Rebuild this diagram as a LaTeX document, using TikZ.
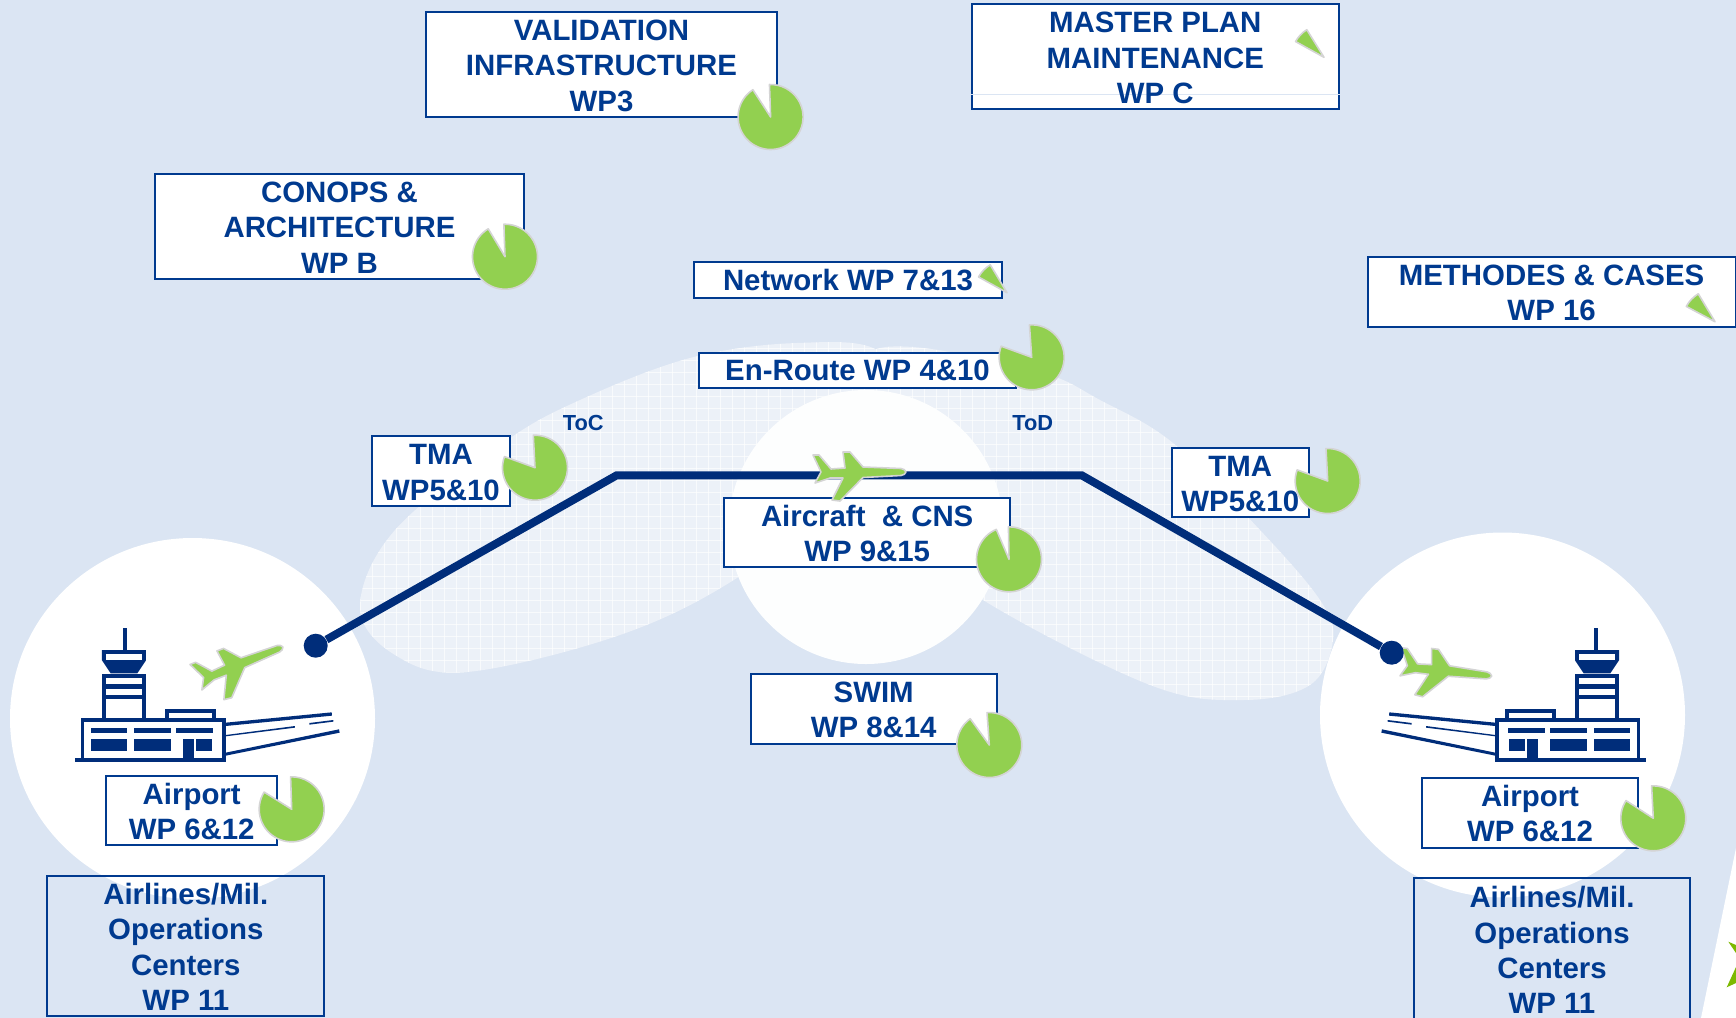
\documentclass[tikz,border=0pt]{standalone}
\usepackage{fontspec}
\setmainfont{Liberation Sans}
\definecolor{bgblue}{HTML}{DBE5F3}
\definecolor{blobblue}{HTML}{ECF1F8}
\definecolor{wptext}{HTML}{003A8F}
\definecolor{navy}{HTML}{002D7A}
\definecolor{pgreen}{HTML}{92D050}
\definecolor{pgray}{HTML}{D4D4D4}
\definecolor{stargreen}{HTML}{7DB900}
\newcommand{\wpfont}{\fontsize{14.7}{17.6}\selectfont\bfseries}
\newcommand{\wpdrop}{\rule{0pt}{11.6pt}}
\tikzset{
  wpbox/.style={draw=wptext,line width=1pt,fill=white,inner sep=0pt,align=center,text=wptext,font=\wpfont},
  wpopen/.style={wpbox,fill=none},
  wptextonly/.style={text=wptext,align=center,inner sep=0pt,font=\wpfont},
  flightlabel/.style={text=wptext,inner sep=0pt,font=\fontsize{10.9}{12}\selectfont\bfseries},
  piepart/.style={fill=pgreen,draw=pgray,line width=.8pt,line join=round},
  planepart/.style={fill=pgreen,draw=pgray,line width=.8pt,line join=round},
  flightpath/.style={draw=navy,line width=4pt,line join=miter},
  flightdot/.style={circle,fill=navy,inner sep=0pt,minimum size=12pt},
}
% hatched blob through the given points
\newcommand{\wpblob}[1]{%
  \begin{scope}
    \clip plot[smooth cycle,tension=.6] coordinates {#1};
    \fill[blobblue] (300,330) rectangle (1344,710);
    \foreach \gx in {300,312,...,1344}{\draw[white,line width=.25pt,opacity=.65] (\gx,330) -- (\gx,710);}
    \foreach \gy in {336,348,...,708}{\draw[white,line width=.25pt,opacity=.65] (300,\gy) -- (1344,\gy);}
  \end{scope}}
% pie with apex at (#1,#2), green from angle #3 to #4 (counter-clockwise on the page)
\newcommand{\wppie}[4]{%
  \begin{scope}[shift={(#1,#2)},yscale=-1]
    \draw[piepart] (0,0) -- (#3:32.5) arc[start angle=#3,end angle=#4,radius=32.5] -- cycle;
  \end{scope}}
% plane, nose along +x
\newcommand{\wpplane}[3]{%
  \begin{scope}[shift={(#1,#2)},rotate=#3]
    \draw[planepart] (46,0) .. controls (45,2) and (44,3) .. (41,3.5) -- (3,5.5) -- (-20,29) -- (-28,28)
      -- (-17,6) -- (-30,6) -- (-45,11) -- (-39,0) -- (-47,-17) -- (-41,-17) -- (-29,-3) -- (-15,-4)
      -- (-17,-20) -- (-10,-20) -- (3,-5) -- (41,-3.5) .. controls (44,-3) and (45,-2) .. (46,0) -- cycle;
  \end{scope}}
% airport, drawn in zoom pixels (3 units = 1 reference pixel)
\newcommand{\wpairport}{%
  \fill[navy] (369,85) rectangle (381,150);
  \fill[navy] (306,150) -- (438,150) -- (438,181) -- (412,220) -- (332,220) -- (306,181) -- cycle;
  \fill[white] (318,163) rectangle (425,180);
  \fill[navy] (306,222) rectangle (438,360);
  \fill[white] (318,235) rectangle (425,252);
  \fill[white] (318,268) rectangle (425,285);
  \fill[white] (318,298) rectangle (425,360);
  \fill[navy] (494,326) rectangle (648,360);
  \fill[white] (506,338) rectangle (636,360);
  \fill[navy] (243,354) rectangle (677,486);
  \fill[white] (253,367) rectangle (667,473);
  \fill[navy] (225,473) rectangle (677,486);
  \fill[navy] (273,384) rectangle (381,399);
  \fill[navy] (402,384) rectangle (513,399);
  \fill[navy] (528,384) rectangle (639,399);
  \fill[navy] (273,417) rectangle (381,453);
  \fill[navy] (402,417) rectangle (513,453);
  \fill[navy] (588,417) rectangle (636,453);
  \fill[navy] (549,417) rectangle (582,473);
  \fill[navy] (677,368) -- (995,337) -- (996,347) -- (677,378) -- cycle;
  \fill[navy] (677,405) -- (885,378) -- (885,383) -- (677,409) -- cycle;
  \fill[navy] (928,369) -- (1000,360) -- (1000,365) -- (928,374) -- cycle;
  \fill[navy] (677,458) -- (1017,388) -- (1019,398) -- (677,467) -- cycle;
}
\begin{document}
\begin{tikzpicture}[x=.5pt,y=-.5pt]
\useasboundingbox (0,0) rectangle (1736,1018);
\fill[bgblue] (0,0) rectangle (1736,1018);

% hatched airspace blobs
\wpblob{(360,607) (395,530) (503,443) (580,400) (690,358) (797,343) (880,352) (900,420) (850,490) (737,578) (620,635) (467,672) (395,655)}
\wpblob{(850,420) (860,360) (913,347) (1040,372) (1100,400) (1173,443) (1260,530) (1320,600) (1333,640) (1310,685) (1243,700) (1150,685) (983,600) (900,530)}

% white discs
\fill[white] (192.5,718.5) ellipse[x radius=182.5,y radius=180.5];
\fill[white] (1502.5,715) circle[radius=182.5];
\fill[white!90!blobblue] (866,527) circle[radius=137];

% white corner with star fragments
\fill[white] (1736,848) -- (1701,1018) -- (1736,1018) -- cycle;
\fill[stargreen] (1728.3,941.7) -- (1736,945) -- (1736,953) -- cycle;
\fill[stargreen] (1726.7,987.3) -- (1736,967) -- (1736,983) -- cycle;

% work package boxes
\node[wpbox,minimum width=175.7pt,minimum height=52.7pt] (val) at (601.5,64.5) {\wpdrop VALIDATION\\INFRASTRUCTURE\\WP3};
\node[wpbox,minimum width=184.2pt,minimum height=52.8pt] (con) at (339.5,226.3) {\wpdrop CONOPS \&\\ARCHITECTURE\\WP B};
\node[wpbox,minimum width=183.8pt,minimum height=52.5pt] (mpbox) at (1155.3,56.7) {};
\draw[bgblue,line width=.5pt] (mpbox.west |- 0,94) -- (mpbox.east |- 0,94);
\node[wptextonly] (mp) at (mpbox.center) {\wpdrop MASTER PLAN\\MAINTENANCE\\WP C};
\node[wpbox,minimum width=183.9pt,minimum height=35pt] (met) at (1551.6,291.5) {\wpdrop METHODES \& CASES\\WP 16};
\node[wpbox,minimum width=153.9pt,minimum height=17.8pt] (net) at (848,279.7) {Network WP 7\&13};
\node[wpbox,minimum width=158.4pt,minimum height=17.2pt] (enr) at (857.5,370.3) {En-Route WP 4\&10};
\node[wpbox,minimum width=69.2pt,minimum height=35.2pt] (tmal) at (441,471) {\wpdrop TMA\\WP5\&10};
\node[wpbox,minimum width=68.8pt,minimum height=34.7pt] (tmar) at (1240.3,482.2) {\wpdrop TMA\\WP5\&10};
\node[wpbox,minimum width=143pt,minimum height=34.8pt] (acft) at (867.2,532.3) {\wpdrop Aircraft\ \ \& CNS\\WP 9\&15};
\node[wpbox,minimum width=122.8pt,minimum height=35.3pt] (swim) at (873.7,708.8) {\wpdrop SWIM\\WP 8\&14};
\node[wpbox,minimum width=85.5pt,minimum height=34.8pt] (aptl) at (191.7,810.3) {\wpdrop Airport\\WP 6\&12};
\node[wpbox,minimum width=108pt,minimum height=34.7pt] (aptr) at (1530,812.8) {\wpdrop Airport\\WP 6\&12};
\node[wpopen,minimum width=138.4pt,minimum height=70pt] (airl) at (185.8,945.8) {\wpdrop Airlines/Mil.\\Operations\\Centers\\WP 11};
\node[wpopen,minimum width=138pt,minimum height=71pt] (airr) at (1552,949) {\wpdrop Airlines/Mil.\\Operations\\Centers\\WP 11};

\node[flightlabel] (toc) at (583.3,422.7) {ToC};
\node[flightlabel] (tod) at (1032.7,422.7) {ToD};

% airports
\begin{scope}[shift={(0,600)},scale=1/3]\wpairport\end{scope}
\begin{scope}[shift={(1721,600)},xscale=-1/3,yscale=1/3]\wpairport\end{scope}

% planes and flight path
\wpplane{1446}{670.4}{-7}
\wpplane{240}{663.5}{21}
\node[flightdot] (dotl) at (315.7,645.7) {};
\node[flightdot] (dotr) at (1391.7,652.7) {};
\coordinate (tocpt) at (616.7,475.3);
\coordinate (todpt) at (1081.7,475.3);
\path[flightpath] (dotl) -- (tocpt) -- (todpt) -- (dotr);
\wpplane{860}{472}{0}

% progress pies
\wppie{770.6}{117}{123}{452}
\wppie{505}{256.7}{121}{452}
\wppie{1031.7}{357.3}{160}{454}
\wppie{535}{467.7}{160}{453}
\wppie{1327.7}{481}{160}{453}
\wppie{1009}{559.3}{113}{451}
\wppie{989.3}{745}{126}{454}
\wppie{291.7}{809.3}{148}{452}
\wppie{1653.3}{818.3}{147}{453}
\wppie{1324}{57.3}{122}{151}
\wppie{1715}{321.7}{121}{152}
\wppie{1007}{292.7}{121}{151}
\end{tikzpicture}
\end{document}
